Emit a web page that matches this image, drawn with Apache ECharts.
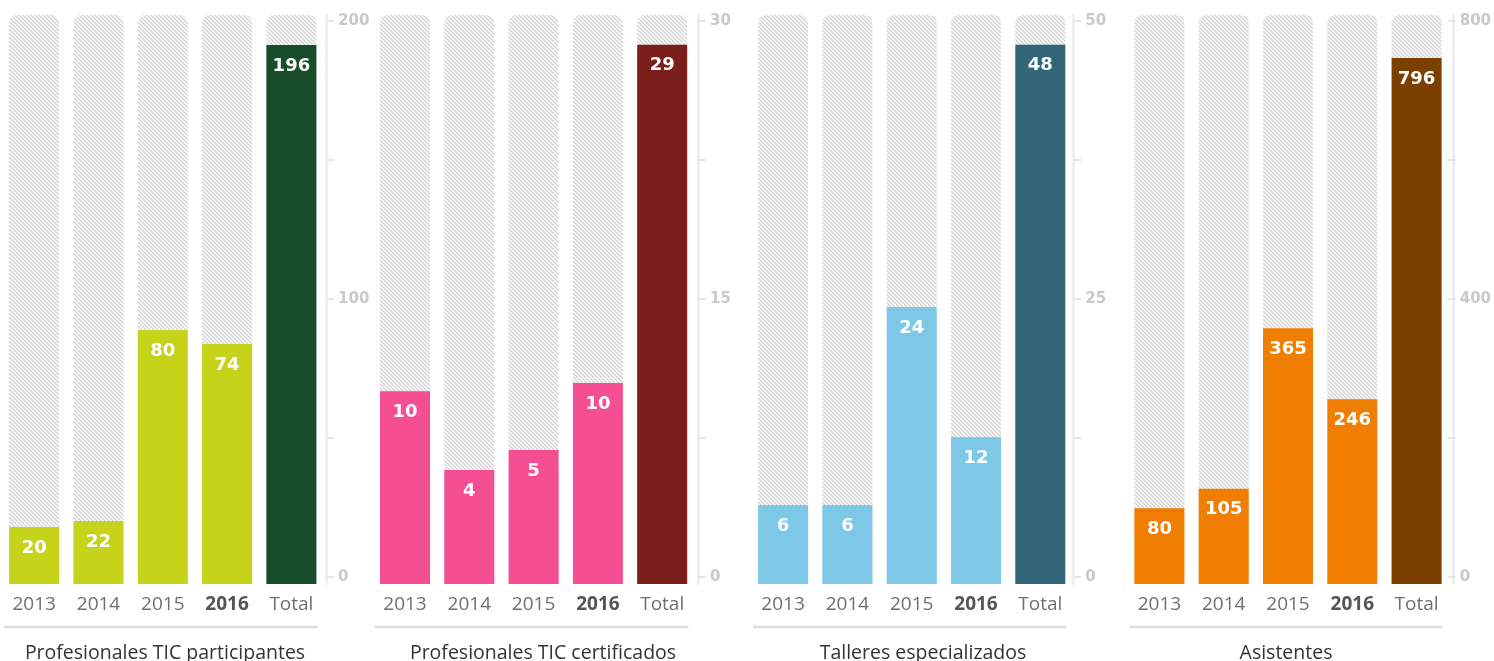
<!DOCTYPE html>
<html><head><meta charset="utf-8">
<script src="https://cdn.jsdelivr.net/npm/echarts@6/dist/echarts.min.js"></script>
<style>html,body{margin:0;padding:0;background:#fff}#c{width:1494px;height:661px}</style>
</head><body><div id="c"></div>
<script>
// ---- data ----
const categories = ['2013', '2014', '2015', '2016', 'Total'];
const panelTitles = ['Profesionales TIC participantes', 'Profesionales TIC certificados', 'Talleres especializados', 'Asistentes'];
const axisMaxima = [200, 30, 50, 800];
// printed values
const participantesValores = [20, 22, 80, 74, 196];
const certificadosValores = [10, 4, 5, 10, 29];
const talleresValores = [6, 6, 24, 12, 48];
const asistentesValores = [80, 105, 365, 246, 796];
// bar heights as drawn in the picture, read against each panel's axis
const participantesAlturas = [20.5, 22.7, 91.4, 86.3, 193.9];
const certificadosAlturas = [10.4, 6.15, 7.23, 10.85, 29.1];
const talleresAlturas = [7.1, 7.1, 24.9, 13.2, 48.5];
const asistentesAlturas = [109, 137, 368, 266, 757];

const valores = [participantesValores, certificadosValores, talleresValores, asistentesValores];
const alturas = [participantesAlturas, certificadosAlturas, talleresAlturas, asistentesAlturas];

// ---- style / layout ----
const colors = [['#c6d31a', '#184d2c'], ['#f54e93', '#7b1f1d'], ['#7dc7e7', '#336579'], ['#f07e00', '#7b3f00']];
const lefts = [2.05, 372.85, 750.95, 1127.25];
const gridW = 321.5;
const axisOffsets = [2.5, 3.6, 0.8, 4.2];
const titleCenters = [165, 543, 923, 1286];
const H = 661;
const barTop = 15, barBottom = 584, axTop = 21, axBottom = 577;

// hatch pattern
const pc = document.createElement('canvas');
pc.width = 4; pc.height = 4;
const g = pc.getContext('2d');
g.fillStyle = '#ffffff'; g.fillRect(0, 0, 4, 4);
g.strokeStyle = '#d4d4d4'; g.lineWidth = 1.5;
g.beginPath();
g.moveTo(-1, -1); g.lineTo(5, 5);
g.moveTo(-1, 3); g.lineTo(1, 5);
g.moveTo(3, -1); g.lineTo(5, 1);
g.stroke();
const hatch = { image: pc, repeat: 'repeat' };

const grid = [], xAxis = [], yAxis = [], series = [], graphic = [];
for (let i = 0; i < 4; i++) {
  const barMax = axisMaxima[i] * (barBottom - barTop) / (axBottom - axTop);
  grid.push({ left: lefts[i], width: gridW, top: barTop, bottom: H - barBottom });
  grid.push({ left: lefts[i], width: gridW, top: axTop, bottom: H - axBottom });
  xAxis.push({
    type: 'category', gridIndex: 2 * i, data: categories,
    axisLine: { show: false }, axisTick: { show: false },
    axisLabel: {
      margin: 11,
      formatter: v => v === '2016' ? '{b|' + v + '}' : '{a|' + v + '}',
      rich: {
        a: { fontFamily: 'Open Sans', fontSize: 19, color: '#6f6f6f' },
        b: { fontFamily: 'Open Sans', fontSize: 19, color: '#555', fontWeight: 'bold' }
      }
    }
  });
  xAxis.push({ type: 'category', gridIndex: 2 * i + 1, data: categories, show: false });
  yAxis.push({
    type: 'value', gridIndex: 2 * i, min: 0, max: barMax, position: 'right', offset: axisOffsets[i],
    axisLine: { show: true, lineStyle: { color: '#ececec', width: 2.5 } },
    axisTick: { show: false }, axisLabel: { show: false }, splitLine: { show: false }
  });
  const half = axisMaxima[i] / 2;
  yAxis.push({
    type: 'value', gridIndex: 2 * i + 1, min: 0, max: axisMaxima[i], interval: axisMaxima[i] / 4,
    position: 'right', offset: axisOffsets[i],
    axisLine: { show: false },
    axisTick: { show: true, length: 8, lineStyle: { color: '#e6e6e6', width: 2 } },
    splitLine: { show: false },
    axisLabel: {
      margin: 12, color: '#c9c9c9', fontWeight: 'bold', fontSize: 15, fontFamily: 'DejaVu Sans',
      formatter: v => (Math.abs(v % half) < 1e-9 ? String(v) : '')
    }
  });
  series.push({
    type: 'bar', xAxisIndex: 2 * i, yAxisIndex: 2 * i, barWidth: 50, silent: true,
    data: categories.map(() => barMax),
    itemStyle: { color: hatch, borderRadius: [8, 8, 0, 0] }
  });
  series.push({
    type: 'bar', xAxisIndex: 2 * i, yAxisIndex: 2 * i, barWidth: 50, barGap: '-100%',
    data: alturas[i].map((v, k) => ({ value: v, itemStyle: { color: k === 4 ? colors[i][1] : colors[i][0] } })),
    label: {
      show: true, position: 'insideTop', distance: 12, color: '#fff', fontWeight: 'bold',
      fontSize: 18, fontFamily: 'DejaVu Sans',
      formatter: p => String(valores[i][p.dataIndex])
    }
  });
  graphic.push({
    type: 'line', silent: true,
    shape: { x1: lefts[i] + 2, y1: 627, x2: lefts[i] + gridW - 6, y2: 627 },
    style: { stroke: '#dcdcdc', lineWidth: 2.5 }
  });
  graphic.push({
    type: 'text', silent: true, x: titleCenters[i], y: 653,
    style: { text: panelTitles[i], fill: '#333', font: '19.5px "Open Sans"', align: 'center', verticalAlign: 'middle' }
  });
}

const chart = echarts.init(document.getElementById('c'));
chart.setOption({ animation: false, grid, xAxis, yAxis, series, graphic });
</script>
</body></html>
